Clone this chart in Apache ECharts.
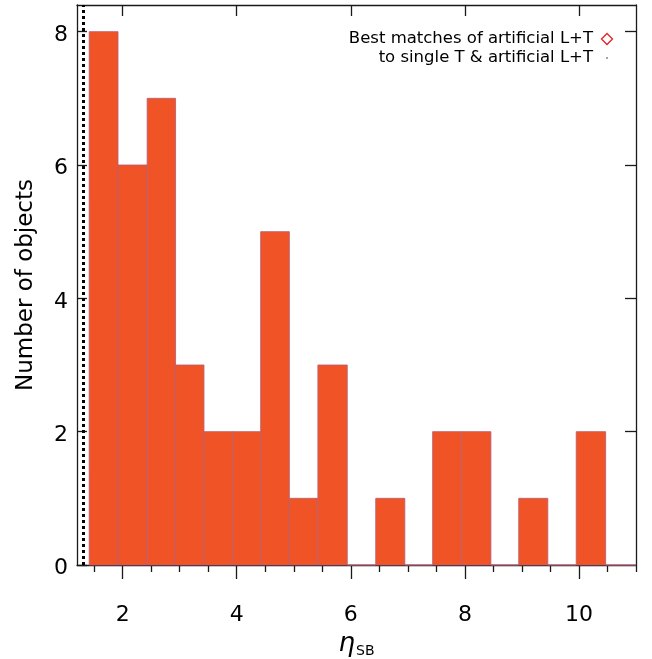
<!DOCTYPE html>
<html>
<head>
<meta charset="utf-8">
<script src="https://cdn.jsdelivr.net/npm/echarts@6/dist/echarts.min.js"></script>
<style>html,body{margin:0;padding:0;background:#fff}#c{width:652px;height:659px}</style>
</head>
<body>
<div id="c"></div>
<script>
// Histogram bin edges (eta_SB) and counts
const binEdges = [1.414, 1.919, 2.430, 2.928, 3.426, 3.93, 4.42, 4.923, 5.423, 5.938, 6.437, 6.947, 7.435, 7.945, 8.456, 8.944, 9.454, 9.952, 10.468, 10.97, 11.47];
const counts   = [8, 6, 7, 3, 2, 2, 5, 1, 3, 0, 1, 0, 2, 2, 0, 1, 0, 2, 0, 0];
const cutLine  = [1.31];
const xMajorTicks = [2, 4, 6, 8, 10];
const xMinorTicks = [1.5, 2.5, 3, 3.5, 4.5, 5, 5.5, 6.5, 7, 7.5, 8.5, 9, 9.5, 10.5, 11];
const yTicks = [0, 2, 4, 6, 8];
const yRightTicks = [2, 4, 6, 8];
const legendTexts = ['Best matches of artificial L+T', 'to single T & artificial L+T'];

const FONT = 'DejaVu Sans';
const AX = '#1a1a1a';

const histData = counts.map((c, i) => [binEdges[i], binEdges[i + 1], c]);

const chart = echarts.init(document.getElementById('c'), null, {renderer: 'canvas'});
chart.setOption({
  animation: false,
  backgroundColor: '#fff',
  grid: {left: 77, right: 16, top: 5, bottom: 94, containLabel: false, outerBoundsMode: 'none'},
  xAxis: [
    {
      type: 'value', position: 'bottom', min: 1.2, max: 11,
      axisLine: {show: true, onZero: false, lineStyle: {color: AX, width: 1.3}},
      axisTick: {show: true, inside: false, length: 14, customValues: xMajorTicks, lineStyle: {color: AX, width: 1.3}},
      axisLabel: {show: true, customValues: xMajorTicks, margin: 39, fontSize: 22, color: '#000', fontFamily: FONT},
      splitLine: {show: false},
      name: '{eta|η}{sub|SB}',
      nameLocation: 'middle', nameGap: 64,
      nameTextStyle: {
        rich: {
          eta: {fontSize: 26, fontFamily: FONT, color: '#000', fontStyle: 'italic'},
          sub: {fontSize: 14, fontFamily: FONT, color: '#000', verticalAlign: 'bottom', padding: [14, 0, 0, 1]}
        }
      }
    },
    {
      type: 'value', position: 'bottom', min: 1.2, max: 11,
      axisLine: {show: false, onZero: false},
      axisTick: {show: true, inside: false, length: 7, customValues: xMinorTicks, lineStyle: {color: AX, width: 1.3}},
      axisLabel: {show: false},
      splitLine: {show: false}
    },
    {
      type: 'value', position: 'top', min: 1.2, max: 11,
      axisLine: {show: true, onZero: false, lineStyle: {color: AX, width: 1.3}},
      axisTick: {show: true, inside: true, length: 11, customValues: xMajorTicks, lineStyle: {color: AX, width: 1.3}},
      axisLabel: {show: false},
      splitLine: {show: false}
    }
  ],
  yAxis: [
    {
      type: 'value', position: 'left', min: 0, max: 8.4,
      axisLine: {show: true, onZero: false, lineStyle: {color: AX, width: 1.3}},
      axisTick: {show: true, inside: true, length: 10, customValues: yTicks, lineStyle: {color: AX, width: 1.3}},
      axisLabel: {
        show: true, customValues: yTicks, margin: 9,
        formatter: '{v|{value}}',
        rich: {v: {fontSize: 22, color: '#000', fontFamily: FONT, padding: [7, 0, 0, 0]}}
      },
      splitLine: {show: false},
      name: 'Number of objects', nameLocation: 'middle', nameGap: 39,
      nameTextStyle: {fontSize: 23, fontFamily: FONT, color: '#000'}
    },
    {
      type: 'value', position: 'right', min: 0, max: 8.4,
      axisLine: {show: true, onZero: false, lineStyle: {color: AX, width: 1.3}},
      axisTick: {show: true, inside: true, length: 11, customValues: yRightTicks, lineStyle: {color: AX, width: 1.3}},
      axisLabel: {show: false},
      splitLine: {show: false}
    }
  ],
  series: [
    {
      type: 'custom', name: 'hist', xAxisIndex: 0, yAxisIndex: 0,
      data: histData,
      encode: {x: [0, 1], y: 2},
      renderItem: function (params, api) {
        const p0 = api.coord([api.value(0), api.value(2)]);
        const p1 = api.coord([api.value(1), 0]);
        const cs = params.coordSys;
        const left = Math.max(p0[0], cs.x);
        const right = Math.min(p1[0], cs.x + cs.width);
        if (right <= left) return null;
        return {
          type: 'rect',
          shape: {x: left, y: p0[1], width: right - left, height: p1[1] - p0[1]},
          style: {fill: '#F05426', stroke: 'rgba(185,95,115,0.85)', lineWidth: 1}
        };
      },
      z: 2
    },
    {
      type: 'line', name: 'cut', xAxisIndex: 0, yAxisIndex: 0, data: [],
      markLine: {
        silent: true, symbol: ['none', 'none'], animation: false,
        label: {show: false},
        lineStyle: {color: '#000', width: 3, type: [3, 3]},
        data: cutLine.map(v => ({xAxis: v}))
      },
      z: 3
    }
  ],
  graphic: [
    {type: 'text', x: 593, y: 39, style: {text: legendTexts[0], font: '16.5px "DejaVu Sans"', fill: '#000', textAlign: 'right', textVerticalAlign: 'middle'}},
    {type: 'text', x: 593, y: 58, style: {text: legendTexts[1], font: '16.5px "DejaVu Sans"', fill: '#000', textAlign: 'right', textVerticalAlign: 'middle'}},
    {type: 'polygon', shape: {points: [[607, 33.5], [612.5, 39], [607, 44.5], [601.5, 39]]}, style: {fill: 'none', stroke: '#e8202a', lineWidth: 1.3}},
    {type: 'circle', shape: {cx: 607, cy: 58, r: 0.8}, style: {fill: '#333'}}
  ]
});
</script>
</body>
</html>
